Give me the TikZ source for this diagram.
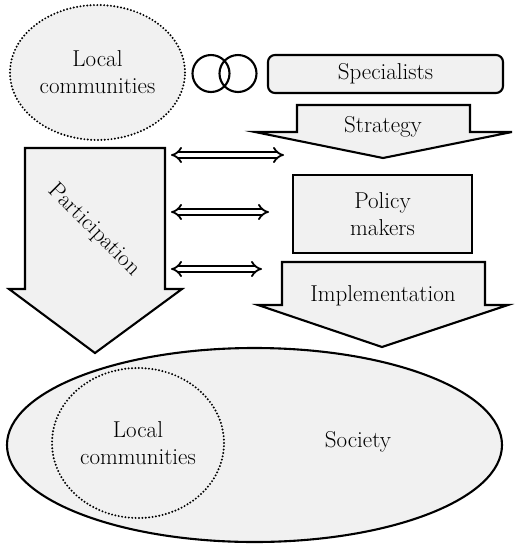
\documentclass[tikz,border=0pt]{standalone}
\usetikzlibrary{shapes.geometric,arrows.meta}
\definecolor{boxfill}{HTML}{F1F1F1}
\begin{document}
\begin{tikzpicture}[x=1pt,y=-1pt,
  txt/.style={font=\fontsize{23}{27}\selectfont, align=center},
  shapeline/.style={draw=black, line width=2.1pt, fill=boxfill},
  dotline/.style={draw=black, line width=2.2pt, dash pattern=on 0pt off 3.4pt, line cap=round, fill=boxfill},
  dblarrow/.style={double=white, double distance=3.6pt, line width=1.8pt, {Implies}-{Implies}}
]
\useasboundingbox (0,0) rectangle (525,550);

% top local communities
\node[ellipse, dotline, minimum width=175pt, minimum height=135pt, inner sep=0pt, txt] (lc1) at (97.5,72.5) {Local\\communities};

% interlocking circles
\node[circle, draw, line width=2.1pt, minimum size=37pt, inner sep=0pt] (c1) at (211,73.5) {};
\node[circle, draw, line width=2.1pt, minimum size=37pt, inner sep=0pt] (c2) at (238,73.5) {};

% specialists
\node[rectangle, rounded corners=7pt, shapeline, minimum width=235pt, minimum height=38pt, inner sep=0pt, txt] (spec) at (385.5,74) {Specialists};

% strategy arrow
\draw[shapeline, line join=miter] (297,105) -- (470,105) -- (470,132) -- (512,132) -- (383,158) -- (255,132) -- (297,132) -- cycle;
\node[txt] (strat) at (383,127) {Strategy};

% policy makers
\node[rectangle, shapeline, minimum width=179pt, minimum height=78pt, inner sep=0pt, txt] (policy) at (382.5,214) {Policy\\makers};

% implementation arrow
\draw[shapeline, line join=miter] (282,262) -- (485,262) -- (485,305) -- (508,305) -- (382,347) -- (258,305) -- (282,305) -- cycle;
\node[txt] (impl) at (383,296) {Implementation};

% participation arrow
\draw[shapeline, line join=miter] (25,148) -- (165,148) -- (165,289) -- (182,289) -- (95,353) -- (9,289) -- (25,289) -- cycle;
\node[txt, rotate=-45] (part) at (94,230) {Participation};

% double arrows
\coordinate (a1l) at (171,155); \coordinate (a1r) at (284,155);
\coordinate (a2l) at (171,212); \coordinate (a2r) at (269,212);
\coordinate (a3l) at (171,269); \coordinate (a3r) at (262,269);
\draw[dblarrow] (a1l) -- (a1r);
\draw[dblarrow] (a2l) -- (a2r);
\draw[dblarrow] (a3l) -- (a3r);

% society
\node[ellipse, shapeline, minimum width=495pt, minimum height=194pt, inner sep=0pt] (soc) at (254.5,445) {};
\node[txt] (soct) at (358,442) {Society};
\node[ellipse, dotline, minimum width=172pt, minimum height=150pt, inner sep=0pt, txt] (lc2) at (138,443) {Local\\communities};
\end{tikzpicture}
\end{document}
